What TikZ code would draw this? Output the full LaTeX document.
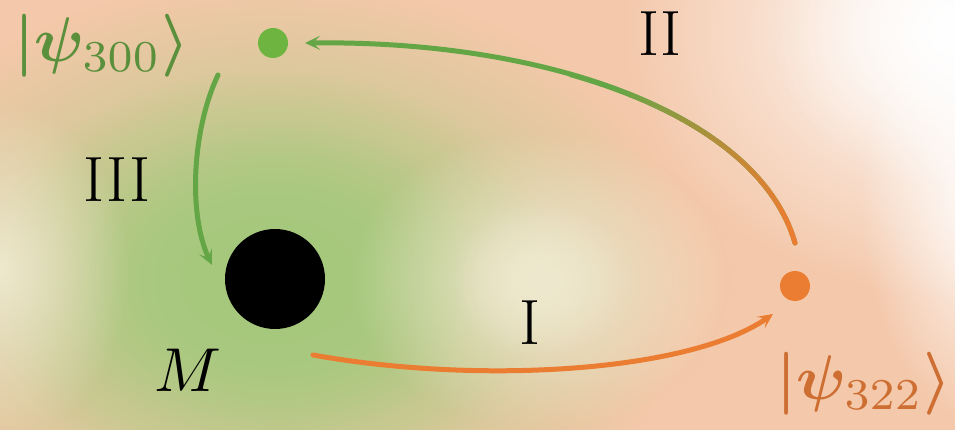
\documentclass[tikz,border=0pt]{standalone}
\usepackage{graphicx}
\usetikzlibrary{arrows.meta,fadings}
\definecolor{peach}{HTML}{F4C8AA}
\definecolor{bggreen}{HTML}{A5C97D}
\definecolor{cream}{HTML}{EEE8CE}
\definecolor{lgreen}{HTML}{64A646}
\definecolor{dotgreen}{HTML}{6DB540}
\definecolor{lorange}{HTML}{EB7D32}
\definecolor{ketgreen}{HTML}{5A8F3C}
\definecolor{ketorange}{HTML}{CD6E32}
\tikzfading[name=softblob, inner color=transparent!0, outer color=transparent!100]
\newcommand{\ketsub}[1]{\hbox{\unboldmath$\scriptstyle #1$}}
\tikzset{
  dotnode/.style={circle, inner sep=0pt, minimum size=30pt},
  labtext/.style={font=\fontsize{64}{64}\selectfont, inner sep=0pt},
  kettext/.style={inner sep=0pt},
  conn/.style={line width=5pt, line cap=round},
  tipstyle/.style={-{Stealth[length=15pt, width=14pt, inset=7pt]}}
}
\begin{document}
\begin{tikzpicture}[x=1pt,y=-1pt]
% background
\fill[peach] (0,0) rectangle (955,430);
\useasboundingbox (0,0) rectangle (955,430);
\begin{scope}
\clip (0,0) rectangle (955,430);
\fill[white, path fading=softblob] (960,30) ellipse [x radius=340, y radius=270];
\fill[white, path fading=softblob] (960,30) ellipse [x radius=190, y radius=160];
\fill[white, path fading=softblob] (990,200) ellipse [x radius=130, y radius=230];
\fill[bggreen, path fading=softblob] (270,280) ellipse [x radius=420, y radius=300];
\fill[bggreen, path fading=softblob] (270,280) ellipse [x radius=290, y radius=210];
\fill[bggreen, path fading=softblob] (280,280) ellipse [x radius=200, y radius=150];
\fill[cream, path fading=softblob] (540,280) ellipse [x radius=190, y radius=150];
\fill[cream, path fading=softblob] (540,280) ellipse [x radius=90, y radius=80];
\fill[cream, path fading=softblob] (0,270) ellipse [x radius=130, y radius=170];
\end{scope}
% nodes
\node[dotnode, fill=dotgreen] (g) at (273,43) {};
\node[dotnode, fill=lorange] (o) at (795,286) {};
\node[circle, fill=black, inner sep=0pt, minimum size=100pt] (bh) at (275,279) {};
\node[kettext, text=ketgreen] (k300) at (102,46) {\scalebox{6.3}{\boldmath$|\psi_{\ketsub{300}}\rangle$}};
\node[kettext, text=ketorange] (k322) at (864,384) {\scalebox{6.3}{\boldmath$|\psi_{\ketsub{322}}\rangle$}};
\node[labtext] (lIII) at (117,180) {III};
\node[labtext] (lII) at (660,34) {II};
\node[labtext] (lI) at (530,323) {I};
\node[kettext] (lM) at (188,370) {\scalebox{6.2}{$M$}};
% connector end points
\coordinate (sIII) at (218,75);
\coordinate (eIII) at (212,265);
\coordinate (sI) at (313,355);
\coordinate (eI) at (773,314);
\coordinate (sII) at (795,243);
\coordinate (eII) at (305,43);
% arrows
\draw[conn, lgreen, tipstyle] (sIII) .. controls (192,130) and (188,215) .. (eIII);
\draw[conn, lorange, tipstyle] (sI) .. controls (480,385) and (690,372) .. (eI);
\draw[conn, lgreen, tipstyle] (sII) .. controls (760,120) and (560,40) .. (eII);
\foreach \i in {0,...,23} {
  \pgfmathsetmacro{\xa}{570+10*\i}
  \pgfmathtruncatemacro{\fr}{min(100,max(0,(\xa-610)/1.75))}
  \begin{scope}
    \clip (\xa-0.6,0) rectangle (\xa+10.6,430);
    \draw[conn, lorange!\fr!lgreen] (sII) .. controls (760,120) and (560,40) .. (eII);
  \end{scope}
}
\end{tikzpicture}
\end{document}
